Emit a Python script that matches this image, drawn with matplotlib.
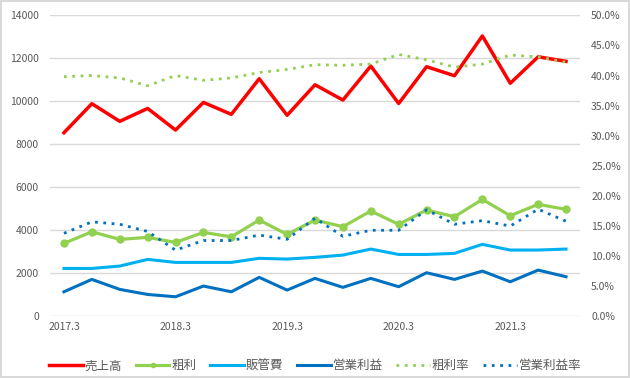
import numpy as np
import matplotlib
matplotlib.use('Agg')
import matplotlib.pyplot as plt
from matplotlib.ticker import FuncFormatter, MultipleLocator

plt.rcParams['font.family'] = ['Noto Sans CJK JP', 'DejaVu Sans']

# quarterly periods, label every 4th
periods = ['2017.3', '2017.6', '2017.9', '2017.12',
           '2018.3', '2018.6', '2018.9', '2018.12',
           '2019.3', '2019.6', '2019.9', '2019.12',
           '2020.3', '2020.6', '2020.9', '2020.12',
           '2021.3', '2021.6', '2021.9']
tick_labels = ['2017.3', '2018.3', '2019.3', '2020.3', '2021.3']

sales = [8540, 9890, 9070, 9670, 8665, 9950, 9395, 11050, 9350, 10770,
         10060, 11640, 9900, 11610, 11190, 13040, 10840, 12070, 11860]
gross = [3395, 3935, 3580, 3674, 3440, 3905, 3700, 4480, 3810, 4480,
         4170, 4900, 4280, 4945, 4635, 5440, 4680, 5210, 4975]
sga = [2230, 2230, 2340, 2650, 2510, 2510, 2510, 2700, 2665, 2745,
       2850, 3130, 2880, 2880, 2930, 3350, 3085, 3085, 3130]
op_profit = [1145, 1720, 1255, 1020, 912, 1410, 1145, 1815, 1223, 1767,
             1350, 1767, 1380, 2030, 1720, 2107, 1610, 2153, 1843]
gross_rate = [39.8, 40.0, 39.6, 38.3, 40.0, 39.2, 39.6, 40.5, 41.0, 41.8,
              41.7, 41.9, 43.5, 42.6, 41.4, 41.9, 43.4, 43.1, 42.2]
op_rate = [13.8, 15.7, 15.3, 14.1, 11.0, 12.6, 12.6, 13.5, 12.8, 16.3,
           13.3, 14.3, 14.3, 17.7, 15.3, 15.9, 15.0, 17.8, 15.8]

x = np.arange(len(periods))

fig = plt.figure(figsize=(6.3, 3.78), dpi=100, linewidth=1.5, edgecolor='#D9D9D9')
ax = fig.add_axes([0.0794, 0.163, 0.8412, 0.7965])
ax2 = ax.twinx()

ax.plot(x, sales, color='#FF0000', lw=2.5, label='売上高', zorder=3)
ax.plot(x, gross, color='#92D050', lw=2.3, marker='o', markersize=5, label='粗利', zorder=3)
ax.plot(x, sga, color='#00B0F0', lw=2.2, label='販管費', zorder=3)
ax.plot(x, op_profit, color='#0070C0', lw=2.2, label='営業利益', zorder=3)

ax2.plot(x, gross_rate, color='#92D050', lw=2.0, linestyle=(0, (1, 2)),
         dash_capstyle='butt', label='粗利率')
ax2.plot(x, op_rate, color='#0070C0', lw=2.0, linestyle=(0, (1, 2)),
         dash_capstyle='butt', label='営業利益率')

ax.set_xlim(-0.5, len(periods) - 0.5)
ax.set_ylim(0, 14000)
ax.yaxis.set_major_locator(MultipleLocator(2000))
ax2.set_ylim(0, 50)
ax2.yaxis.set_major_locator(MultipleLocator(5))
ax2.yaxis.set_major_formatter(FuncFormatter(lambda v, p: f'{v:.1f}%'))

ax.set_xticks(x[::4])
ax.set_xticklabels(tick_labels)

ax.grid(axis='y', color='#D9D9D9', lw=1)
ax.set_axisbelow(True)
for a in (ax, ax2):
    for s in a.spines.values():
        s.set_visible(False)
    a.tick_params(length=0, labelsize=7.5, labelcolor='#595959')
ax.tick_params(axis='y', pad=8)
ax2.tick_params(axis='y', pad=8)
ax.tick_params(axis='x', pad=4)

h1, l1 = ax.get_legend_handles_labels()
h2, l2 = ax2.get_legend_handles_labels()
fig.legend(h1 + h2, l1 + l2, loc='center', bbox_to_anchor=(0.5, 0.032),
           ncol=6, frameon=False, fontsize=9, handlelength=2.7,
           handletextpad=0.15, columnspacing=1.1, markerscale=0.6,
           labelcolor='#595959')

fig.savefig('out.png', dpi=100)
